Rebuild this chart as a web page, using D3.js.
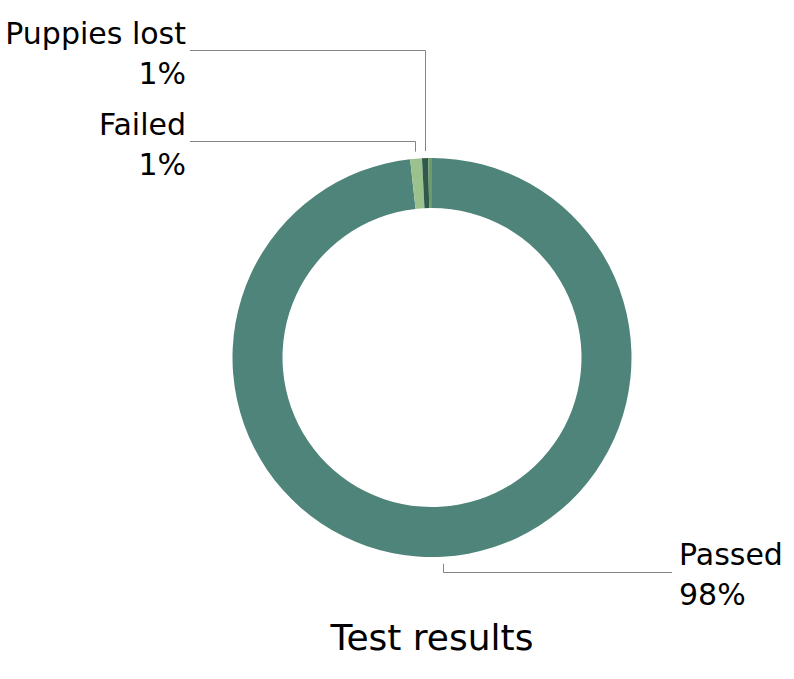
<!DOCTYPE html>
<html><head><meta charset="utf-8">
<script src="https://cdn.jsdelivr.net/npm/d3@7"></script>
<style>body{margin:0;background:#fff}svg{display:block}text{font-family:"DejaVu Sans",sans-serif;fill:#000}</style>
</head><body>
<script>
const categories = ["Passed", "Failed", "Puppies lost", ""];
const values = [98.25, 0.95, 0.5, 0.3];
const labelText = ["98%", "1%", "1%", ""];
const colors = ["#4e8479", "#9bc28d", "#2f5a4b", "#6f9b68"];
const title = "Test results";

const W = 794, H = 679;
const cx = 432, cy = 357.5, rOuter = 199.5, rInner = 149.5;
const svg = d3.select("body").append("svg").attr("width", W).attr("height", H);
const g = svg.append("g").attr("transform", `translate(${cx},${cy})`);

const data = categories.map((c, i) => ({cat: c, value: values[i], label: labelText[i], color: colors[i]}));
const pie = d3.pie().value(d => d.value).sort(null);
const arcs = pie(data);
const arc = d3.arc().innerRadius(rInner).outerRadius(rOuter);

g.selectAll("path.slice").data(arcs).join("path")
  .attr("class", "slice")
  .attr("d", arc)
  .attr("fill", d => d.data.color);

// label layout (positions only)
const layout = {
  "Passed": {elbowY: 572.5, endX: 672, tx: 679, ty: 565, anchor: "start"},
  "Failed": {elbowY: 141.5, endX: 190, tx: 186, ty: 135, anchor: "end"},
  "Puppies lost": {elbowY: 50.5, endX: 190, tx: 186, ty: 44, anchor: "end"}
};
const rLead = rOuter + 7;
arcs.forEach(a => {
  const L = layout[a.data.cat];
  if (!L) return;
  const mid = (a.startAngle + a.endAngle) / 2;
  const px = Math.round(cx + rLead * Math.sin(mid)) + 0.5;
  const py = cy - rLead * Math.cos(mid);
  svg.append("path")
    .attr("d", `M${px},${py}V${L.elbowY}H${L.endX}`)
    .attr("fill", "none").attr("stroke", "#858585").attr("stroke-width", 1);
  const t = svg.append("text").attr("text-anchor", L.anchor).attr("font-size", 30);
  t.append("tspan").attr("x", L.tx).attr("y", L.ty).text(a.data.cat);
  t.append("tspan").attr("x", L.tx).attr("y", L.ty + 40).text(a.data.label);
});

svg.append("text").attr("x", cx).attr("y", 650).attr("text-anchor", "middle")
  .attr("font-size", 36).text(title);
</script>
</body></html>
